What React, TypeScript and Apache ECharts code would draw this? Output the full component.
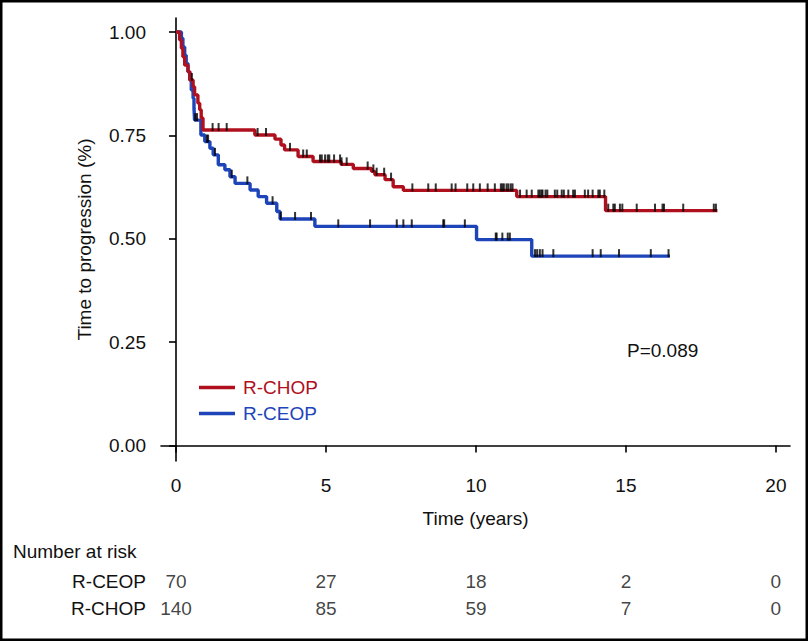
import React, { useEffect, useRef } from "react";
import * as echarts from "echarts";

// R-CHOP Kaplan–Meier steps (time in years, survival after the step)
const chopTimes = [0, 0.12, 0.18, 0.23, 0.29, 0.4, 0.46, 0.57, 0.62, 0.73, 0.79, 0.84, 0.9, 2.63, 3.3, 3.5, 3.62, 4.07, 4.57, 5.5, 5.91, 6.52, 6.63, 6.97, 7.24, 7.58, 11.36, 14.32, 18.05];
const chopSurv = [1.0, 0.981, 0.961, 0.94, 0.92, 0.904, 0.884, 0.868, 0.848, 0.828, 0.812, 0.792, 0.763, 0.751, 0.741, 0.727, 0.715, 0.699, 0.687, 0.68, 0.67, 0.663, 0.655, 0.643, 0.626, 0.617, 0.602, 0.568, 0.568];
const chopCensor = [0.53, 1.22, 1.42, 1.69, 2.72, 3.0, 3.8, 4.24, 4.36, 4.8, 4.86, 4.97, 5.06, 5.11, 5.27, 5.47, 5.52, 5.69, 6.39, 6.58, 6.69, 6.94, 7.17, 7.88, 8.41, 8.66, 9.19, 9.32, 9.71, 9.91, 10.13, 10.39, 10.63, 10.83, 10.88, 10.93, 11.02, 11.08, 11.16, 11.22, 11.47, 11.69, 11.86, 12.08, 12.13, 12.19, 12.22, 12.32, 12.38, 12.63, 12.71, 12.86, 12.93, 13.08, 13.24, 13.3, 13.63, 13.74, 13.89, 14.08, 14.13, 14.28, 14.41, 14.58, 14.63, 14.8, 14.88, 15.36, 15.97, 16.22, 16.27, 16.91, 17.93, 18.0];

// R-CEOP Kaplan–Meier steps
const ceopTimes = [0, 0.18, 0.23, 0.29, 0.34, 0.4, 0.46, 0.51, 0.57, 0.6, 0.62, 0.83, 0.96, 1.13, 1.24, 1.41, 1.63, 1.8, 1.97, 2.47, 2.74, 3.02, 3.36, 3.47, 4.63, 10.02, 11.86, 16.47];
const ceopSurv = [1.0, 0.985, 0.964, 0.944, 0.924, 0.904, 0.884, 0.86, 0.84, 0.816, 0.787, 0.751, 0.735, 0.719, 0.703, 0.679, 0.667, 0.65, 0.634, 0.618, 0.602, 0.586, 0.566, 0.548, 0.53, 0.498, 0.458, 0.458];
const ceopCensor = [0.64, 0.7, 1.03, 1.07, 1.3, 1.86, 2.38, 3.22, 3.49, 3.97, 4.5, 5.41, 6.47, 7.36, 7.58, 7.86, 8.91, 8.94, 9.63, 10.66, 10.69, 10.88, 11.06, 11.13, 11.97, 12.04, 12.13, 12.22, 12.58, 13.89, 14.16, 14.77, 15.83, 16.42];

// Number at risk table
const riskTimes = [0, 5, 10, 15, 20];
const riskCeop = [70, 27, 18, 2, 0];
const riskChop = [140, 85, 59, 7, 0];
const riskRows = ["R-CEOP", "R-CHOP"];

const xTicks = [0, 5, 10, 15, 20];
const yTicks = [0, 0.25, 0.5, 0.75, 1.0];

const RED = "#B0101E";
const BLUE = "#1E44B9";
const FONT = "'Liberation Sans', Arial, Helvetica, sans-serif";
const TXT = "#111";

function survAt(times: number[], surv: number[], t: number) {
  let s = surv[0];
  for (let i = 0; i < times.length; i++) {
    if (times[i] <= t) s = surv[i];
  }
  return s;
}

export default function App() {
  const ref = useRef<HTMLDivElement>(null);
  useEffect(() => {
    if (!ref.current) return;
    const chart = echarts.init(ref.current, undefined, { renderer: "svg" });
    const censorStyle = {
      type: "scatter",
      symbol: "rect",
      symbolSize: [2, 8],
      symbolOffset: [0, -3],
      itemStyle: { color: "#000" },
      z: 5,
      silent: true,
    };
    const option: any = {
      animation: false,
      textStyle: { fontFamily: FONT },
      graphic: [
        {
          type: "rect",
          shape: { x: 1.25, y: 1.25, width: 805.5, height: 638.5 },
          style: { fill: "none", stroke: "#000", lineWidth: 2.5 },
          silent: true,
        },
        {
          type: "text",
          x: 13,
          y: 551,
          style: { text: "Number at risk", fontSize: 19, fontFamily: FONT, fill: TXT, verticalAlign: "middle", align: "left" },
        },
        {
          type: "text",
          x: 627,
          y: 350,
          style: { text: "P=0.089", fontSize: 19, fontFamily: FONT, fill: TXT, verticalAlign: "middle", align: "left" },
        },
      ],
      legend: {
        data: [
          { name: "R-CHOP", textStyle: { color: RED } },
          { name: "R-CEOP", textStyle: { color: BLUE } },
        ],
        orient: "vertical",
        left: 194,
        top: 373,
        icon: "rect",
        itemWidth: 36,
        itemHeight: 3.5,
        itemGap: 7,
        textStyle: { fontSize: 19, fontFamily: FONT, padding: [0, 0, 0, 3] },
        selectedMode: false,
      },
      grid: [
        { left: 161, right: 18, top: 18, bottom: 180 },
        { left: 161, right: 18, top: 568, height: 54 },
      ],
      xAxis: [
        {
          type: "value",
          gridIndex: 0,
          min: -0.5,
          max: 20.47,
          name: "Time (years)",
          nameLocation: "middle",
          nameGap: 48,
          nameTextStyle: { fontSize: 19, color: TXT, fontFamily: FONT },
          axisLine: { show: true, lineStyle: { color: "#000", width: 1.6 } },
          axisTick: { show: true, length: 7, lineStyle: { color: "#000", width: 1.6 }, customValues: xTicks },
          axisLabel: { fontSize: 19, color: TXT, margin: 15, customValues: xTicks },
          splitLine: { show: false },
        },
        { type: "value", gridIndex: 1, min: -0.5, max: 20.47, show: false },
      ],
      yAxis: [
        {
          type: "value",
          gridIndex: 0,
          min: -0.0375,
          max: 1.034,
          name: "Time to progression (%)",
          nameLocation: "middle",
          nameGap: 67,
          nameTextStyle: { fontSize: 19, color: TXT, fontFamily: FONT },
          axisLine: { show: true, lineStyle: { color: "#000", width: 1.6 } },
          axisTick: { show: true, length: 7, lineStyle: { color: "#000", width: 1.6 }, customValues: yTicks },
          axisLabel: { fontSize: 19, color: TXT, margin: 15, customValues: yTicks, formatter: (v: number) => v.toFixed(2) },
          splitLine: { show: false },
        },
        {
          type: "category",
          gridIndex: 1,
          data: riskRows,
          inverse: true,
          axisLine: { show: false },
          axisTick: { show: false },
          axisLabel: { fontSize: 19, color: TXT, margin: 15 },
          splitLine: { show: false },
        },
      ],
      series: [
        {
          name: "R-CHOP",
          type: "line",
          step: "end",
          showSymbol: false,
          symbol: "none",
          lineStyle: { color: RED, width: 3.4 },
          itemStyle: { color: RED },
          data: chopTimes.map((t, i) => [t, chopSurv[i]]),
          z: 3,
        },
        {
          name: "R-CEOP",
          type: "line",
          step: "end",
          showSymbol: false,
          symbol: "none",
          lineStyle: { color: BLUE, width: 3.4 },
          itemStyle: { color: BLUE },
          data: ceopTimes.map((t, i) => [t, ceopSurv[i]]),
          z: 2,
        },
        {
          ...censorStyle,
          name: "chopCensor",
          data: chopCensor.map((t) => [t, survAt(chopTimes, chopSurv, t)]),
        },
        {
          ...censorStyle,
          name: "ceopCensor",
          data: ceopCensor.map((t) => [t, survAt(ceopTimes, ceopSurv, t)]),
        },
        {
          name: "risk",
          type: "scatter",
          xAxisIndex: 1,
          yAxisIndex: 1,
          symbolSize: 1,
          itemStyle: { color: "transparent" },
          silent: true,
          label: {
            show: true,
            position: "inside",
            fontSize: 19,
            color: TXT,
            fontFamily: FONT,
            formatter: (p: any) => String(p.value[2]),
          },
          data: [
            ...riskTimes.map((t, i) => [t, 0, riskCeop[i]]),
            ...riskTimes.map((t, i) => [t, 1, riskChop[i]]),
          ],
        },
      ],
    };
    chart.setOption(option);
    return () => chart.dispose();
  }, []);
  return (
    <div
      ref={ref}
      style={{ position: "absolute", left: 0, top: 0, width: 808, height: 641, background: "#fff" }}
    />
  );
}
